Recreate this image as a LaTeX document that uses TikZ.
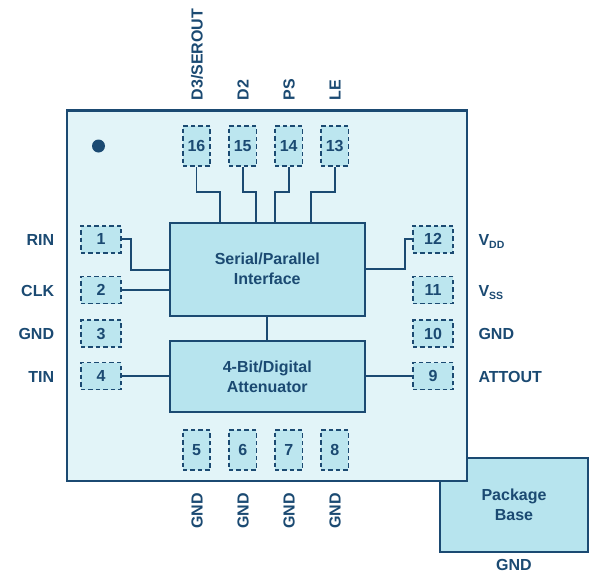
\documentclass[tikz,border=0pt]{standalone}
\usepackage{fontspec}
\setmainfont{Liberation Sans}
\usetikzlibrary{calc}
\definecolor{adiblue}{HTML}{1B4A72}
\definecolor{chipfill}{HTML}{E2F4F8}
\definecolor{boxfill}{HTML}{B7E4EE}
\definecolor{pinfill}{HTML}{BCE6EF}
\begin{document}
\begin{tikzpicture}[x=1pt,y=-1pt,
  txt/.style={font=\fontsize{16}{20}\selectfont\bfseries, text=adiblue, inner sep=0pt},
  pinbase/.style={txt, draw=adiblue, fill=pinfill, dash pattern=on 4.5pt off 3pt, line width=1.6pt, inner sep=0pt},
  pinv/.style={pinbase, minimum width=27.5pt, minimum height=40pt},
  pinh/.style={pinbase, minimum width=40.5pt, minimum height=27pt},
  block/.style={txt, draw=adiblue, fill=boxfill, line width=2pt, align=center, minimum width=195.5pt},
  wire/.style={draw=adiblue, line width=1.8pt},
  toplbl/.style={txt, rotate=90, anchor=west},
  botlbl/.style={txt, rotate=90, anchor=east},
  leftlbl/.style={txt, anchor=base east},
  rightlbl/.style={txt, anchor=base west}
]
\useasboundingbox (0,0) rectangle (589,573);

% package base (behind chip)
\node[block, minimum width=147.5pt, minimum height=93.5pt] (pb) at (514,505) {Package\\Base};
\node[txt, anchor=base] (pbgnd) at (514,570.5) {GND};

% chip body
\node[draw=adiblue, fill=chipfill, line width=2.2pt, minimum width=400pt, minimum height=370.5pt, inner sep=0pt] (chip) at (267,295.75) {};
\fill[adiblue] (98.5,146) circle[radius=6.5pt];

% blocks
\node[block, minimum height=93.5pt] (sp) at (267.25,269.25) {Serial/Parallel\\Interface};
\node[block, minimum height=71.6pt] (at) at (267.25,376.5) {4-Bit/Digital\\Attenuator};
\draw[wire] (sp.south) -- (at.north);

% top pins
\node[pinv] (p16) at (196.5,146) {16};
\node[pinv] (p15) at (242.7,146) {15};
\node[pinv] (p14) at (288.7,146) {14};
\node[pinv] (p13) at (334.7,146) {13};
\node[toplbl] (l16) at (197,100.5) {D3/SEROUT};
\node[toplbl] (l15) at (243,100.5) {D2};
\node[toplbl] (l14) at (289,100.5) {PS};
\node[toplbl] (l13) at (335,100.5) {LE};
\coordinate (j16) at (220.3,191.7);
\coordinate (j15) at (256,191.7);
\coordinate (j14) at (275,191.7);
\coordinate (j13) at (310.7,191.7);
\draw[wire] (p16.south) |- (j16) -- (j16 |- sp.north);
\draw[wire] (p15.south) |- (j15) -- (j15 |- sp.north);
\draw[wire] (p14.south) |- (j14) -- (j14 |- sp.north);
\draw[wire] (p13.south) |- (j13) -- (j13 |- sp.north);

% bottom pins
\node[pinv] (p5) at (196.5,450) {5};
\node[pinv] (p6) at (242.7,450) {6};
\node[pinv] (p7) at (288.7,450) {7};
\node[pinv] (p8) at (334.7,450) {8};
\node[botlbl] (l5) at (197,492.7) {GND};
\node[botlbl] (l6) at (243,492.7) {GND};
\node[botlbl] (l7) at (289,492.7) {GND};
\node[botlbl] (l8) at (335,492.7) {GND};

% left pins
\node[pinh] (p1) at (101,239.2) {1};
\node[pinh] (p2) at (101,290) {2};
\node[pinh] (p3) at (101,333.7) {3};
\node[pinh] (p4) at (101,376) {4};
\node[leftlbl] (l1) at (54.3,245) {RIN};
\node[leftlbl] (l2) at (54.3,296) {CLK};
\node[leftlbl] (l3) at (54.3,339.5) {GND};
\node[leftlbl] (l4) at (54.3,382.3) {TIN};
\coordinate (j1) at (130.7,269.7);
\draw[wire] (p1.east) -| (j1) -- (j1 -| sp.west);
\draw[wire] (p2.east) -- (p2.east -| sp.west);
\draw[wire] (p4.east) -- (p4.east -| at.west);

% right pins
\node[pinh] (p12) at (433,239.2) {12};
\node[pinh] (p11) at (433,290) {11};
\node[pinh] (p10) at (433,333.7) {10};
\node[pinh] (p9) at (433,376) {9};
\node[rightlbl] (l12) at (478.3,245) {V\raisebox{-3.5pt}{\fontsize{10.5}{10.5}\selectfont DD}};
\node[rightlbl] (l11) at (478.3,296) {V\raisebox{-3.5pt}{\fontsize{10.5}{10.5}\selectfont SS}};
\node[rightlbl] (l10) at (478.3,339.5) {GND};
\node[rightlbl] (l9) at (478.3,382.3) {ATTOUT};
\coordinate (j12) at (405,269.3);
\draw[wire] (p12.west) -| (j12) -- (j12 -| sp.east);
\draw[wire] (p9.west) -- (p9.west -| at.east);
\end{tikzpicture}
\end{document}
